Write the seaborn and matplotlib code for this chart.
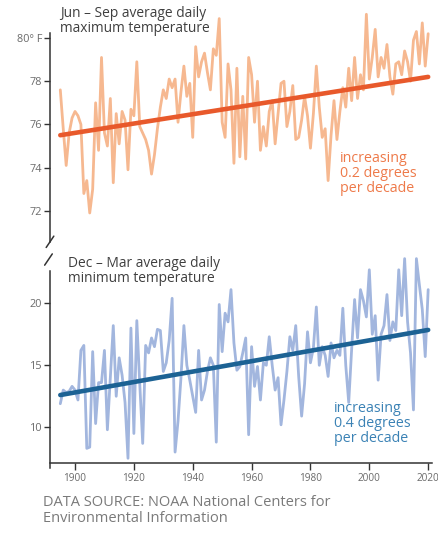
import numpy as np
import pandas as pd
import seaborn as sns
import matplotlib
matplotlib.use("Agg")
import matplotlib.pyplot as plt

# ---------------- data ----------------
years = list(range(1895, 2021))

summer_max = [
    77.6, 75.8, 74.1, 75.6, 76.3, 76.6, 76.4, 76.0, 72.8, 73.4,
    71.9, 73.0, 77.0, 74.8, 79.1, 75.6, 75.0, 77.2, 73.3, 76.5,
    75.1, 76.6, 76.2, 73.9, 76.7, 76.4, 78.9, 75.9, 75.6, 75.3,
    74.8, 73.7, 74.6, 75.8, 76.8, 77.6, 77.2, 78.1, 77.7, 78.1,
    76.1, 77.5, 78.7, 77.3, 77.9, 75.4, 79.6, 78.2, 78.9, 79.3,
    78.4, 77.6, 79.5, 79.2, 80.9, 76.1, 75.4, 78.8, 77.6, 74.2,
    78.6, 74.5, 77.3, 74.4, 79.1, 78.3, 76.1, 78.0, 74.8, 75.9,
    75.0, 76.6, 77.1, 75.1, 76.5, 77.9, 78.0, 75.9, 76.6, 77.8,
    75.3, 75.4, 76.2, 77.3, 76.4, 74.9, 76.5, 78.7, 76.8, 75.4,
    75.8, 73.4, 75.5, 77.1, 75.3, 76.6, 77.7, 76.8, 78.6, 77.1,
    79.1, 77.2, 78.3, 77.6, 81.1, 78.1, 79.1, 80.4, 78.2, 79.1,
    78.6, 79.7, 78.2, 77.4, 78.8, 78.9, 78.3, 79.4, 78.9, 78.0,
    79.9, 80.3, 78.8, 80.7, 78.7, 80.2,
]

winter_min = [
    11.9, 13.0, 12.8, 12.9, 13.3, 13.0, 12.2, 16.2, 16.6, 8.3,
    8.4, 16.1, 10.3, 13.6, 13.6, 16.2, 9.8, 14.0, 18.2, 12.5,
    15.6, 14.2, 12.0, 7.5, 18.0, 9.5, 18.6, 13.5, 8.7, 16.6,
    16.0, 17.2, 16.5, 17.9, 17.8, 14.5, 15.2, 17.0, 20.4, 8.0,
    10.5, 14.0, 18.2, 15.0, 13.8, 12.5, 11.2, 16.2, 12.2, 13.0,
    14.5, 15.6, 15.0, 8.8, 19.9, 16.1, 19.2, 18.5, 21.1, 16.8,
    14.6, 14.9, 16.0, 17.2, 9.4, 16.5, 13.3, 14.9, 12.2, 15.2,
    15.0, 17.3, 15.0, 13.0, 14.0, 10.2, 12.2, 14.5, 17.3, 16.2,
    18.2, 14.1, 10.9, 13.5, 17.7, 15.2, 16.4, 19.7, 15.0, 16.5,
    15.8, 14.1, 16.8, 15.6, 16.2, 15.8, 19.6, 15.0, 12.0, 16.3,
    20.3, 17.2, 21.1, 20.2, 18.9, 22.7, 17.5, 19.0, 13.8, 17.5,
    18.2, 20.7, 17.0, 18.5, 17.8, 22.7, 19.0, 23.6, 18.5, 16.0,
    11.4, 23.6, 21.5, 19.5, 15.7, 21.1,
]

trend_years = [1895, 2020]
summer_trend = [75.5, 78.2]
winter_trend = [12.6, 17.85]

summer_ticks = [72, 74, 76, 78, 80]
summer_ticklabels = ["72", "74", "76", "78", "80° F"]
winter_ticks = [10, 15, 20]
winter_ticklabels = ["10", "15", "20"]
year_ticks = [1900, 1920, 1940, 1960, 1980, 2000, 2020]

summer_title = "Jun – Sep average daily\nmaximum temperature"
winter_title = "Dec – Mar average daily\nminimum temperature"
summer_note = "increasing\n0.2 degrees\nper decade"
winter_note = "increasing\n0.4 degrees\nper decade"
source = "DATA SOURCE: NOAA National Centers for\nEnvironmental Information"

df = pd.DataFrame({"year": years, "summer": summer_max, "winter": winter_min})
tr = pd.DataFrame({"year": trend_years, "summer": summer_trend, "winter": winter_trend})

# ---------------- style ----------------
sns.set_theme(style="white")
plt.rcParams["font.family"] = ["Open Sans", "DejaVu Sans"]

W, H = 438, 538
fig = plt.figure(figsize=(W / 100, H / 100), dpi=100)

def px_axes(left, top, right, bottom):
    return fig.add_axes([left / W, 1 - bottom / H, (right - left) / W, (bottom - top) / H])

ORANGE_LIGHT = "#f6b890"
ORANGE = "#e8592b"
ORANGE_TEXT = "#ee7a4a"
BLUE_LIGHT = "#a2b6de"
BLUE = "#1c6294"
BLUE_TEXT = "#3b82b5"
TXT = "#3f3f3f"
TICK = "#6a6a6a"
AX = "#333333"

xlim = (1891.5, 2021.3)

# top panel
ax1 = px_axes(50, 8, 432, 235)
sns.lineplot(data=df, x="year", y="summer", ax=ax1, color=ORANGE_LIGHT, lw=2.0)
sns.lineplot(data=tr, x="year", y="summer", ax=ax1, color=ORANGE, lw=3.3)
ax1.set_xlim(*xlim)
ax1.set_ylim(70.88, 81.39)
for l in ax1.lines:
    l.set_clip_on(False)

# bottom panel
ax2 = px_axes(50, 258, 432, 463)
sns.lineplot(data=df, x="year", y="winter", ax=ax2, color=BLUE_LIGHT, lw=2.0)
sns.lineplot(data=tr, x="year", y="winter", ax=ax2, color=BLUE, lw=3.3)
ax2.set_xlim(*xlim)
ax2.set_ylim(7.12, 23.65)
for l in ax2.lines:
    l.set_clip_on(False)

for ax in (ax1, ax2):
    ax.set_xlabel("")
    ax.set_ylabel("")
    ax.patch.set_alpha(0)
    for s in ("top", "right"):
        ax.spines[s].set_visible(False)
    ax.spines["left"].set_color(AX)
    ax.spines["left"].set_linewidth(1.1)
    ax.tick_params(axis="y", direction="out", length=4, width=1, color=AX,
                   labelsize=7.8, labelcolor=TICK, pad=1.5, left=True)

ax1.spines["bottom"].set_visible(False)
ax1.set_xticks([])
ax1.set_yticks(summer_ticks)
ax1.set_yticklabels(summer_ticklabels)
ax1.spines["left"].set_bounds(70.55, 80.25)

ax2.set_yticks(winter_ticks)
ax2.set_yticklabels(winter_ticklabels)
ax2.spines["left"].set_bounds(6.7, 22.6)
ax2.spines["bottom"].set_color(AX)
ax2.spines["bottom"].set_linewidth(1.1)
ax2.set_xticks(year_ticks)
ax2.set_xticklabels([str(y) for y in year_ticks])
ax2.tick_params(axis="x", direction="out", length=5, width=1, color=AX,
                labelsize=7.2, labelcolor=TICK, pad=2, bottom=True)

# axis break marks (slanted strokes at the spine ends)
brk = dict(color=AX, lw=1.1, clip_on=False)
ax1.plot([-0.010, 0.010], [-0.055, -0.005], transform=ax1.transAxes, **brk)
ax2.plot([-0.014, 0.006], [0.965, 1.02], transform=ax2.transAxes, **brk)

# titles and notes
fig.text(60 / W, 1 - 6 / H, summer_title, ha="left", va="top", fontsize=9.9,
         color=TXT, linespacing=1.0)
fig.text(68 / W, 1 - 256 / H, winter_title, ha="left", va="top", fontsize=9.9,
         color=TXT, linespacing=1.0)
fig.text(340 / W, 1 - 151 / H, summer_note, ha="left", va="top", fontsize=10.3,
         color=ORANGE_TEXT, linespacing=1.0)
fig.text(334 / W, 1 - 401 / H, winter_note, ha="left", va="top", fontsize=10.3,
         color=BLUE_TEXT, linespacing=1.0)
fig.text(43 / W, 1 - 495 / H, source, ha="left", va="top", fontsize=10.5,
         color="#7a7a7a", linespacing=1.1)

fig.savefig("out.png", dpi=100, facecolor="white")
